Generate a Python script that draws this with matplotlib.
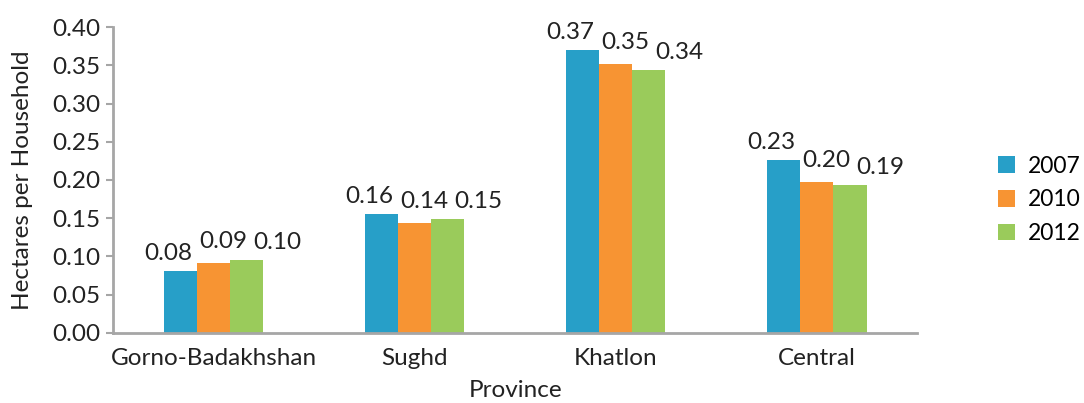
import numpy as np
import matplotlib
matplotlib.use('Agg')
import matplotlib.pyplot as plt

provinces = ['Gorno-Badakhshan', 'Sughd', 'Khatlon', 'Central']
years = ['2007', '2010', '2012']
v2007 = [0.081, 0.156, 0.370, 0.226]
v2010 = [0.092, 0.144, 0.351, 0.197]
v2012 = [0.096, 0.149, 0.344, 0.193]
colors = ['#279fc8', '#f79433', '#9acb5b']

plt.rcParams['font.family'] = ['Lato', 'DejaVu Sans']
fs = 17.5
txt = '#222222'

fig = plt.figure(figsize=(10.84, 4.03), dpi=100)
ax = fig.add_axes([0.1042, 0.1737, 0.742, 0.7593])

x = np.arange(len(provinces))
w = 0.165
# label nudges (points) so the labels don't run into each other, like excel does
nudge = [(-9, 5), (7, 8), (22, 5)]
for i, (vals, yr) in enumerate(zip([v2007, v2010, v2012], years)):
    bars = ax.bar(x + (i - 1) * w, vals, w, color=colors[i], label=yr)
    for b, v in zip(bars, vals):
        ax.annotate(f'{v:.2f}', (b.get_x() + b.get_width() / 2, v),
                    xytext=nudge[i], textcoords='offset points',
                    ha='center', va='bottom', fontsize=fs, color=txt)

ax.set_xlim(-0.5, len(provinces) - 0.5)
ax.set_ylim(0, 0.40)
yt = np.arange(0, 0.401, 0.05)
ax.set_yticks(yt)
ax.set_yticklabels([f'{t:.2f}' for t in yt])
ax.set_xticks(x)
ax.set_xticklabels(provinces)
ax.tick_params(axis='y', length=5, width=1.5, color='#a6a6a6', labelsize=fs, labelcolor=txt, pad=4)
ax.tick_params(axis='x', length=0, labelsize=fs, labelcolor=txt, pad=11)
for s in ['top', 'right']:
    ax.spines[s].set_visible(False)
for s in ['left', 'bottom']:
    ax.spines[s].set_color('#a6a6a6')
    ax.spines[s].set_linewidth(2)

ax.set_ylabel('Hectares per Household', fontsize=fs, color=txt, labelpad=14)
ax.set_xlabel('Province', fontsize=fs, color=txt, labelpad=8)

ax.legend(loc='center left', bbox_to_anchor=(1.1, 0.435), frameon=False,
          fontsize=16.5, handlelength=0.75, handleheight=0.75, handletextpad=0.55,
          labelspacing=0.55, borderpad=0, borderaxespad=0)

fig.savefig('out.png', dpi=100)
